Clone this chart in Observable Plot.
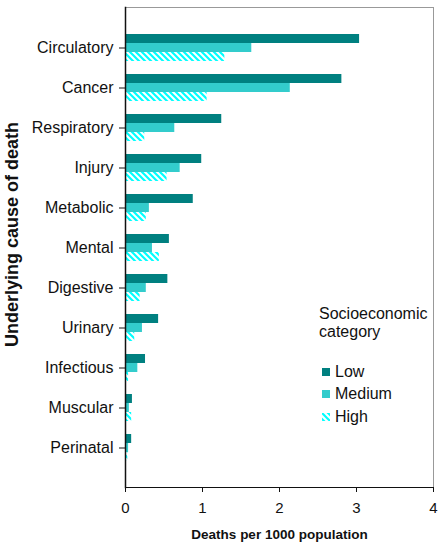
<!DOCTYPE html>
<html>
<head>
<meta charset="utf-8">
<script src="https://cdn.jsdelivr.net/npm/d3@7"></script>
<script src="https://cdn.jsdelivr.net/npm/@observablehq/plot@0.6"></script>
<style>
  body { margin: 0; background: #fff; overflow: hidden; }
  #wrap { position: relative; width: 440px; height: 546px; font-family: "Liberation Sans", Arial, sans-serif; }
  #legend { position: absolute; left: 319px; top: 305px; width: 121px; font-size: 16px; color: #111; line-height: 18px; white-space: nowrap; }
  #legend .item { position: absolute; left: 3px; white-space: nowrap; height: 20px; line-height: 20px; }
  #legend .item svg { vertical-align: middle; margin-right: 5px; position: relative; top: -1px; }
</style>
</head>
<body>
<div id="wrap"></div>
<script>
const causes = ["Circulatory", "Cancer", "Respiratory", "Injury", "Metabolic", "Mental", "Digestive", "Urinary", "Infectious", "Muscular", "Perinatal"];
const low    = [3.04, 2.81, 1.25, 0.99, 0.88, 0.57, 0.55, 0.43, 0.26, 0.09, 0.08];
const medium = [1.64, 2.14, 0.64, 0.71, 0.31, 0.35, 0.27, 0.22, 0.16, 0.05, 0.04];
const high   = [1.29, 1.06, 0.25, 0.54, 0.27, 0.44, 0.19, 0.12, 0.04, 0.08, 0.03];
const xTicks = [0, 1, 2, 3, 4];
const seriesNames = ["Low", "Medium", "High"];
const colors = { Low: "#008080", Medium: "#33CCCC", High: "#00FFFF" };

const table = causes.map((c, i) => ({ cause: c, Low: low[i], Medium: medium[i], High: high[i] }));
const font = "Liberation Sans, Arial, sans-serif";

const chart = Plot.plot({
  width: 440,
  height: 546,
  marginLeft: 125,
  marginRight: 7,
  marginTop: 7,
  marginBottom: 59,
  style: { fontFamily: font, color: "#111", background: "#fff" },
  x: { domain: [0, 4] },
  y: { type: "band", domain: causes, paddingInner: 0.325, paddingOuter: 0.6625 },
  marks: [
    Plot.frame({ stroke: "#999" }),
    Plot.barX(table, { y: "cause", x: "Low", fill: colors.Low, insetBottom: 18 }),
    Plot.barX(table, { y: "cause", x: "Medium", fill: colors.Medium, insetTop: 9, insetBottom: 9 }),
    Plot.barX(table, { y: "cause", x: "High", fill: "url(#hatchHigh)", insetTop: 18 }),
    Plot.frame({ anchor: "left", stroke: "#111", strokeWidth: 1.5 }),
    Plot.frame({ anchor: "bottom", stroke: "#111" }),
    Plot.axisY({ tickSize: 6, tickPadding: 6, fontSize: 16, label: null }),
    Plot.axisX({ ticks: xTicks, tickFormat: d3.format("d"), tickSize: 5, tickPadding: 10, fontSize: 15, label: null }),
    Plot.text(["Deaths per 1000 population"], { frameAnchor: "bottom", dy: 51, fontWeight: "bold", fontSize: 13.5 }),
    Plot.text(["Underlying cause of death"], { frameAnchor: "left", textAnchor: "middle", dx: -113, dy: -13, rotate: -90, fontWeight: "bold", fontSize: 18 })
  ]
});

const defs = d3.select(chart).insert("defs", ":first-child");
function addHatch(sel, id) {
  const p = sel.append("pattern").attr("id", id).attr("patternUnits", "userSpaceOnUse")
    .attr("width", 6).attr("height", 6);
  p.append("rect").attr("width", 6).attr("height", 6).attr("fill", "#fff");
  p.append("path").attr("d", "M-1,-1L7,7M5,-1L7,1M-1,5L1,7")
    .attr("stroke", "#00FFFF").attr("stroke-width", 2.2);
}
addHatch(defs, "hatchHigh");

const wrap = document.getElementById("wrap");
wrap.appendChild(chart);

// legend overlay
const legend = document.createElement("div");
legend.id = "legend";
legend.innerHTML = `<div>Socioeconomic</div><div>category</div>`;
const tops = [57, 79, 102];
seriesNames.forEach((name, i) => {
  const item = document.createElement("div");
  item.className = "item";
  item.style.top = tops[i] + "px";
  const fill = name === "High" ? "url(#hatchLegend)" : colors[name];
  item.innerHTML = `<svg width="8" height="8">${name === "High" ? '<defs></defs>' : ''}<rect width="8" height="8" fill="${fill}"/></svg>${name}`;
  legend.appendChild(item);
  if (name === "High") addHatch(d3.select(item).select("defs"), "hatchLegend");
});
wrap.appendChild(legend);
</script>
</body>
</html>
